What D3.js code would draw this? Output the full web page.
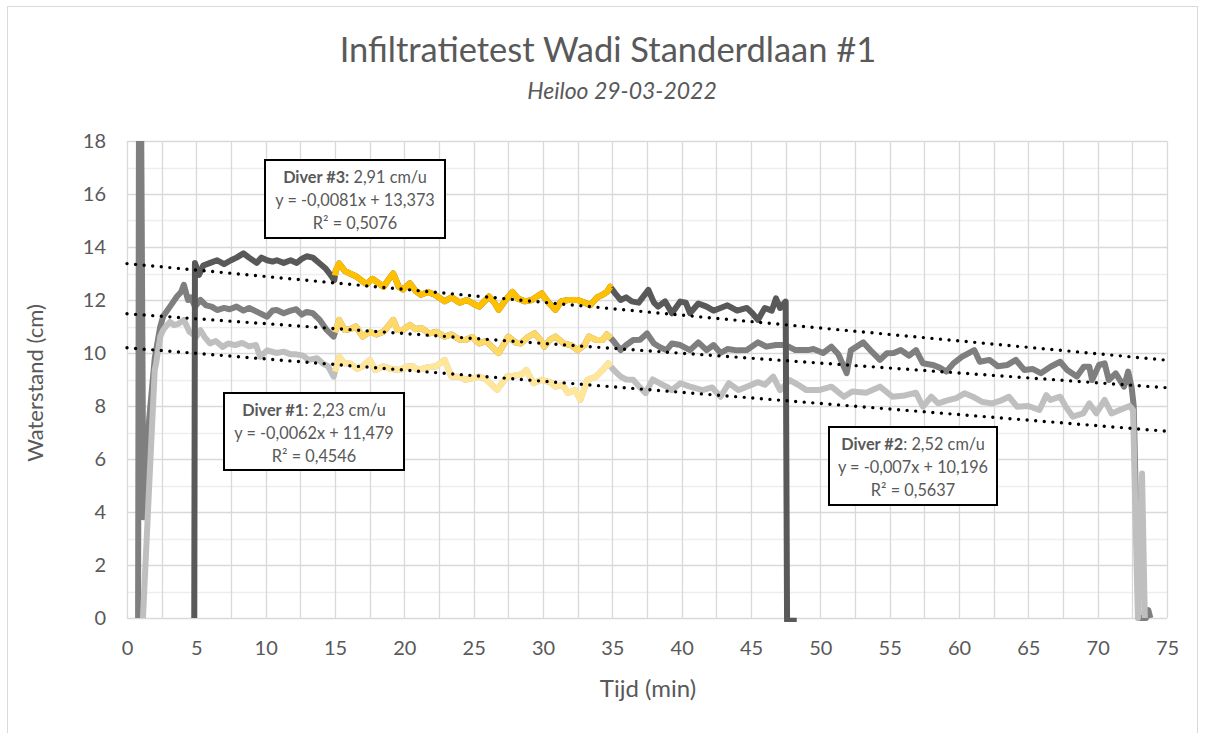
<!DOCTYPE html>
<html><head><meta charset="utf-8">
<script src="https://cdn.jsdelivr.net/npm/d3@7"></script>
<style>body{margin:0;background:#fff;} svg{display:block;font-family:Lato,"Open Sans",sans-serif;}</style>
</head><body><svg id="c" width="1205" height="733"></svg>
<script>
// ---------- text ----------
const chartTitle = "Infiltratietest Wadi Standerdlaan #1";
const chartSubtitle = "Heiloo 29-03-2022";
const xAxisTitle = "Tijd (min)";
const yAxisTitle = "Waterstand (cm)";
const xTickValues = [0,5,10,15,20,25,30,35,40,45,50,55,60,65,70,75];
const yTickValues = [0,2,4,6,8,10,12,14,16,18];

// ---------- series (time in min, water level in cm) ----------
const diver1Data = [ // middle series
[0.8,0],[0.9,30],[1.18,3.8],[1.6,7.5],[2.0,9.8],[2.4,11.0],[2.62,11.4],[3.1,11.75],[3.6,12.13],[3.9,12.3],[4.1,12.57],[4.4,12.0],[4.6,12.1],[4.9,11.75],[5.3,12.0],[5.7,11.8],[6.1,11.75],[6.5,11.62],[7.0,11.7],[7.4,11.65],[7.9,11.75],[8.4,11.6],[8.8,11.7],[9.35,11.56],[10.1,11.37],[10.5,11.6],[10.8,11.62],[11.3,11.5],[11.8,11.6],[12.2,11.65],[12.6,11.45],[12.96,11.55],[13.4,11.5],[13.9,11.25],[14.4,10.87],[14.9,10.62],
[15.3,11.25],[15.7,10.87],[16.1,10.9],[16.5,11.0],[17.0,10.62],[17.5,10.8],[18.0,10.7],[18.5,10.8],[19.2,11.25],[19.5,10.87],[19.9,10.87],[20.4,11.06],[20.8,10.9],[21.2,10.95],[21.8,10.74],[22.3,10.8],[22.9,10.62],[23.4,10.7],[24.0,10.5],[24.4,10.49],[24.9,10.6],[25.4,10.36],[25.9,10.45],[26.3,10.24],[26.8,10.0],[27.5,10.62],[28.0,10.4],[28.4,10.36],[28.9,10.6],[29.4,10.74],[29.8,10.5],[30.1,10.24],[30.5,10.5],[30.9,10.62],[31.5,10.36],[32.0,10.3],[32.5,10.11],[33.0,10.3],[33.3,10.62],[33.8,10.5],[34.3,10.49],[34.6,10.7],
[35.0,10.5],[35.6,10.11],[36.0,10.3],[36.5,10.49],[37.0,10.5],[37.5,10.74],[38.0,10.36],[38.5,10.2],[38.9,10.11],[39.3,10.36],[39.9,10.3],[40.6,10.11],[41.2,10.4],[41.8,10.11],[42.3,10.3],[42.8,10.0],[43.3,10.15],[44.0,10.1],[44.7,10.11],[45.5,10.4],[46.1,10.24],[46.8,10.3],[47.5,10.3],[48.2,10.11],[49.1,10.11],[49.5,10.15],[50.2,10.0],[50.8,10.24],[51.3,9.95],[51.9,9.24],[52.2,10.1],[53.1,10.4],[53.6,10.11],[54.3,9.74],[54.8,9.99],[55.3,10.0],[55.8,10.11],[56.4,9.9],[56.9,10.11],[57.4,9.61],[58.1,9.55],[58.6,9.45],[59.1,9.3],[59.6,9.61],[60.2,9.85],[61.1,10.11],[61.5,9.67],[62.2,9.74],[62.8,9.5],[63.5,9.55],[64.1,9.74],[64.7,9.36],[65.3,9.4],[65.9,9.24],[66.6,9.48],[67.3,9.67],[67.8,9.36],[68.5,9.11],[69.0,9.48],[69.4,9.48],[69.6,8.98],[70.1,9.55],[70.5,9.61],[70.8,8.98],[71.3,9.23],[71.9,8.73],[72.2,9.3],[72.45,8.7],[72.6,8.0],[72.95,0],[73.5,0],[73.65,0.3],[73.8,0]
];
const diver2Data = [ // lowest series
[1.15,0],[1.6,5.0],[2.0,9.36],[2.1,9.61],[2.4,10.62],[2.6,10.86],[2.8,11.0],[3.1,11.17],[3.4,11.05],[3.7,11.1],[4.1,11.25],[4.5,10.8],[5.0,10.62],[5.3,10.86],[5.6,10.6],[5.98,10.36],[6.4,10.45],[6.9,10.23],[7.3,10.36],[7.8,10.3],[8.3,10.38],[8.8,10.25],[9.3,10.3],[9.6,9.86],[10.1,10.1],[10.8,10.0],[11.3,10.05],[11.8,9.95],[12.2,9.95],[12.7,9.9],[13.1,9.74],[13.7,9.8],[14.1,9.61],[14.5,9.5],[14.9,9.11],
[15.3,9.86],[15.7,9.6],[16.1,9.6],[16.6,9.4],[17.0,9.5],[17.5,9.74],[17.9,9.36],[18.5,9.5],[19.0,9.4],[19.7,9.36],[20.2,9.49],[20.6,9.5],[21.0,9.36],[21.6,9.45],[22.3,9.5],[22.9,9.74],[23.4,9.11],[24.0,9.1],[24.4,8.99],[25.0,9.05],[25.4,9.11],[25.9,9.0],[26.7,8.61],[27.4,9.11],[28.0,9.15],[28.5,9.2],[28.8,9.36],[29.3,8.86],[29.9,8.99],[30.5,8.9],[30.9,8.73],[31.4,8.8],[31.8,8.49],[32.3,8.6],[32.7,8.24],[33.2,8.99],[33.8,9.1],[34.3,9.36],[34.7,9.61],
[35.1,9.36],[35.6,9.11],[36.0,9.0],[36.5,8.99],[37.0,8.7],[37.4,8.49],[37.9,9.0],[38.4,8.86],[38.9,8.73],[39.3,8.6],[39.9,8.86],[40.6,8.73],[41.5,8.6],[42.2,8.7],[42.8,8.35],[43.4,8.86],[44.1,8.6],[44.7,8.73],[45.5,8.9],[46.0,8.8],[46.6,9.11],[47.1,8.6],[47.8,8.98],[48.4,8.8],[49.0,8.6],[49.9,8.6],[50.8,8.73],[51.7,8.35],[52.3,8.55],[53.3,8.5],[54.3,8.73],[55.2,8.35],[56.1,8.4],[56.9,8.5],[57.4,7.98],[58.0,8.35],[58.5,8.1],[59.1,8.2],[59.8,8.3],[60.4,8.48],[61.0,8.35],[61.7,8.15],[62.4,8.1],[63.0,8.2],[63.6,8.35],[64.2,7.97],[65.0,8.0],[65.8,7.85],[66.3,8.41],[66.6,8.23],[67.3,8.35],[67.7,7.97],[68.2,7.6],[68.96,7.72],[69.4,8.1],[69.9,7.72],[70.5,8.23],[71.0,7.72],[71.6,7.85],[72.3,8.0],[72.55,7.85],[72.9,0],[73.2,5.45],[73.4,0]
];
const diver3Data = [ // top series
[4.85,0],[4.9,13.4],[5.2,12.95],[5.5,13.3],[6.0,13.4],[6.5,13.5],[7.0,13.35],[7.5,13.5],[7.9,13.6],[8.4,13.76],[8.8,13.6],[9.35,13.4],[9.7,13.6],[10.1,13.5],[10.5,13.45],[10.8,13.5],[11.3,13.4],[11.8,13.5],[12.24,13.4],[12.6,13.55],[12.96,13.65],[13.4,13.6],[13.9,13.38],[14.3,13.2],[14.6,13.0],[14.95,12.75],
[15.05,13.1],[15.3,13.38],[15.7,13.1],[16.08,13.0],[16.5,12.9],[17.0,12.7],[17.28,12.6],[17.7,12.8],[18.1,12.65],[18.5,12.5],[18.9,12.8],[19.2,13.0],[19.6,12.5],[19.9,12.4],[20.4,12.63],[20.8,12.35],[21.2,12.2],[21.7,12.3],[22.2,12.2],[22.9,11.95],[23.4,12.1],[24.0,11.9],[24.5,12.0],[25.0,11.85],[25.4,11.75],[26.1,12.13],[26.5,11.9],[26.8,11.63],[27.3,12.0],[27.8,12.3],[28.2,12.05],[28.7,11.95],[29.2,12.0],[29.9,12.25],[30.4,11.9],[30.9,11.63],[31.3,11.95],[31.8,12.0],[32.5,12.0],[33.0,11.9],[33.4,11.8],[33.9,12.1],[34.3,12.2],[34.6,12.3],
[34.85,12.5],[35.2,12.25],[35.6,12.0],[36.0,12.1],[36.4,11.95],[36.9,11.9],[37.6,12.38],[38.0,11.9],[38.3,11.75],[38.8,11.95],[39.3,11.5],[39.9,11.94],[40.3,11.9],[40.6,11.5],[41.2,11.87],[41.8,11.75],[42.3,11.6],[42.8,11.7],[43.3,11.8],[44.0,11.6],[44.7,11.7],[45.1,11.5],[45.5,11.25],[46.0,11.7],[46.5,11.6],[46.8,12.06],[47.1,11.7],[47.5,11.94],[47.6,-0.1],[48.3,-0.1]
];
const seriesNames = ["Diver #1","Diver #2","Diver #3"];
const seriesColors = ["#7f7f7f","#bfbfbf","#595959"];
const highlightColors = ["#ffd966","#ffe699","#ffc000"];
const highlightRange = [15, 34.9]; // minutes shown in yellow

// ---------- trendlines (x = sample number, 10 s per sample) ----------
const trendSlopes = [-0.0062, -0.007, -0.0081];
const trendIntercepts = [11.479, 10.196, 13.373];
const samplesPerMinute = 6;
const rateLabels = ["2,23 cm/u","2,52 cm/u","2,91 cm/u"];
const equationLabels = ["y = -0,0062x + 11,479","y = -0,007x + 10,196","y = -0,0081x + 13,373"];
const r2Labels = ["R\u00b2 = 0,4546","R\u00b2 = 0,5637","R\u00b2 = 0,5076"];

// ---------- drawing ----------
const svg = d3.select("#c");
const W = 1205, H = 733;
const plot = {left:127, right:1167, top:141, bottom:618};
const x = d3.scaleLinear().domain([0,75]).range([plot.left, plot.right]);
const y = d3.scaleLinear().domain([0,18]).range([plot.bottom, plot.top]);
const txt = "#595959";

svg.append("rect").attr("x",0).attr("y",0).attr("width",W).attr("height",H).attr("fill","#fff");
svg.append("rect").attr("x",7.5).attr("y",6.5).attr("width",1190).attr("height",740)
  .attr("fill","none").attr("stroke","#d9d9d9").attr("stroke-width",1);

// gridlines
const g = svg.append("g");
g.selectAll(".hmin").data(d3.range(1,18,2)).join("line")
  .attr("x1",plot.left).attr("x2",plot.right).attr("y1",d=>Math.round(y(d))+0.5).attr("y2",d=>Math.round(y(d))+0.5)
  .attr("stroke","#eeeeee").attr("stroke-width",1.3);
g.selectAll(".vgrid").data(d3.range(0,75.01,2.5)).join("line")
  .attr("y1",plot.top).attr("y2",plot.bottom).attr("x1",d=>Math.round(x(d))+0.5).attr("x2",d=>Math.round(x(d))+0.5)
  .attr("stroke","#d9d9d9").attr("stroke-width",1.3);
g.selectAll(".hmaj").data(yTickValues).join("line")
  .attr("x1",plot.left).attr("x2",plot.right).attr("y1",d=>Math.round(y(d))+0.5).attr("y2",d=>Math.round(y(d))+0.5)
  .attr("stroke","#d9d9d9").attr("stroke-width",1.3);

// axes labels via d3 axes
const xAxis = svg.append("g").attr("transform",`translate(0,${plot.bottom})`)
  .call(d3.axisBottom(x).tickValues(xTickValues).tickSize(0).tickPadding(23));
const yAxis = svg.append("g").attr("transform",`translate(${plot.left},0)`)
  .call(d3.axisLeft(y).tickValues(yTickValues).tickSize(0).tickPadding(21));
[xAxis,yAxis].forEach(a=>{
  a.select(".domain").remove();
  a.selectAll("text").attr("fill",txt).style("font-size","20px").style("font-family","Lato,sans-serif");
});

// series
const clipId = "plotclip";
svg.append("clipPath").attr("id",clipId).append("rect")
  .attr("x",plot.left).attr("y",plot.top).attr("width",plot.right-plot.left).attr("height",plot.bottom-plot.top+4);
const line = d3.line().x(d=>x(d[0])).y(d=>y(d[1]));
function subset(data, a, b){
  const out=[];
  for(let i=0;i<data.length;i++){
    const p=data[i];
    if(p[0]>=a && p[0]<=b){
      if(out.length===0 && i>0){const q=data[i-1];const f=(a-q[0])/(p[0]-q[0]);out.push([a,q[1]+f*(p[1]-q[1])]);}
      out.push(p);
    } else if(p[0]>b && out.length){
      const q=data[i-1];const f=(b-q[0])/(p[0]-q[0]);out.push([b,q[1]+f*(p[1]-q[1])]);break;
    }
  }
  return out;
}
const seriesG = svg.append("g").attr("clip-path",`url(#${clipId})`);
[diver1Data, diver2Data, diver3Data].forEach((data,i)=>{
  seriesG.append("path").datum(data).attr("d",line).attr("fill","none")
    .attr("stroke",seriesColors[i]).attr("stroke-width",6).attr("stroke-linejoin","round").attr("stroke-linecap","butt");
  seriesG.append("path").datum(subset(data, highlightRange[0], highlightRange[1])).attr("d",line).attr("fill","none")
    .attr("stroke",highlightColors[i]).attr("stroke-width",6).attr("stroke-linejoin","round").attr("stroke-linecap","butt");
});

// trendlines (dotted)
trendSlopes.forEach((s,i)=>{
  const pts=[0,75].map(t=>[t, trendIntercepts[i] + s*samplesPerMinute*t]);
  svg.append("path").datum(pts).attr("d",line).attr("fill","none").attr("stroke","#000")
    .attr("stroke-width",3.4).attr("stroke-linecap","round").attr("stroke-dasharray","0 8.6");
});

// annotation boxes
const boxes = [
  {i:0, x:224, y:393, w:180, h:77, colonBold:false},
  {i:1, x:829, y:427, w:168, h:78, colonBold:false},
  {i:2, x:265, y:160, w:180, h:78, colonBold:true}
];
boxes.forEach(b=>{
  const bg = svg.append("g");
  bg.append("rect").attr("x",b.x).attr("y",b.y).attr("width",b.w).attr("height",b.h)
    .attr("fill","#fff").attr("stroke","#000").attr("stroke-width",2);
  const cx = b.x + b.w/2;
  const fs = "16.3px";
  const t1 = bg.append("text").attr("x",cx).attr("y",b.y+23).attr("text-anchor","middle")
    .attr("fill",txt).style("font-size",fs);
  t1.append("tspan").attr("font-weight","bold").text(seriesNames[b.i] + (b.colonBold?":":""));
  t1.append("tspan").text((b.colonBold?" ":": ") + rateLabels[b.i]);
  bg.append("text").attr("x",cx).attr("y",b.y+46).attr("text-anchor","middle")
    .attr("fill",txt).style("font-size",fs).text(equationLabels[b.i]);
  bg.append("text").attr("x",cx).attr("y",b.y+69).attr("text-anchor","middle")
    .attr("fill",txt).style("font-size",fs).text(r2Labels[b.i]);
});

// titles
svg.append("text").attr("x",608).attr("y",62).attr("text-anchor","middle").attr("fill",txt)
  .style("font-size","34.5px").text(chartTitle);
svg.append("text").attr("x",622).attr("y",99).attr("text-anchor","middle").attr("fill",txt)
  .style("font-size","23px").style("font-style","italic").text(chartSubtitle);
svg.append("text").attr("x",648).attr("y",697).attr("text-anchor","middle").attr("fill",txt)
  .style("font-size","24px").text(xAxisTitle);
svg.append("text").attr("transform","translate(43,383) rotate(-90)").attr("text-anchor","middle").attr("fill",txt)
  .style("font-size","22px").text(yAxisTitle);
</script></body></html>
